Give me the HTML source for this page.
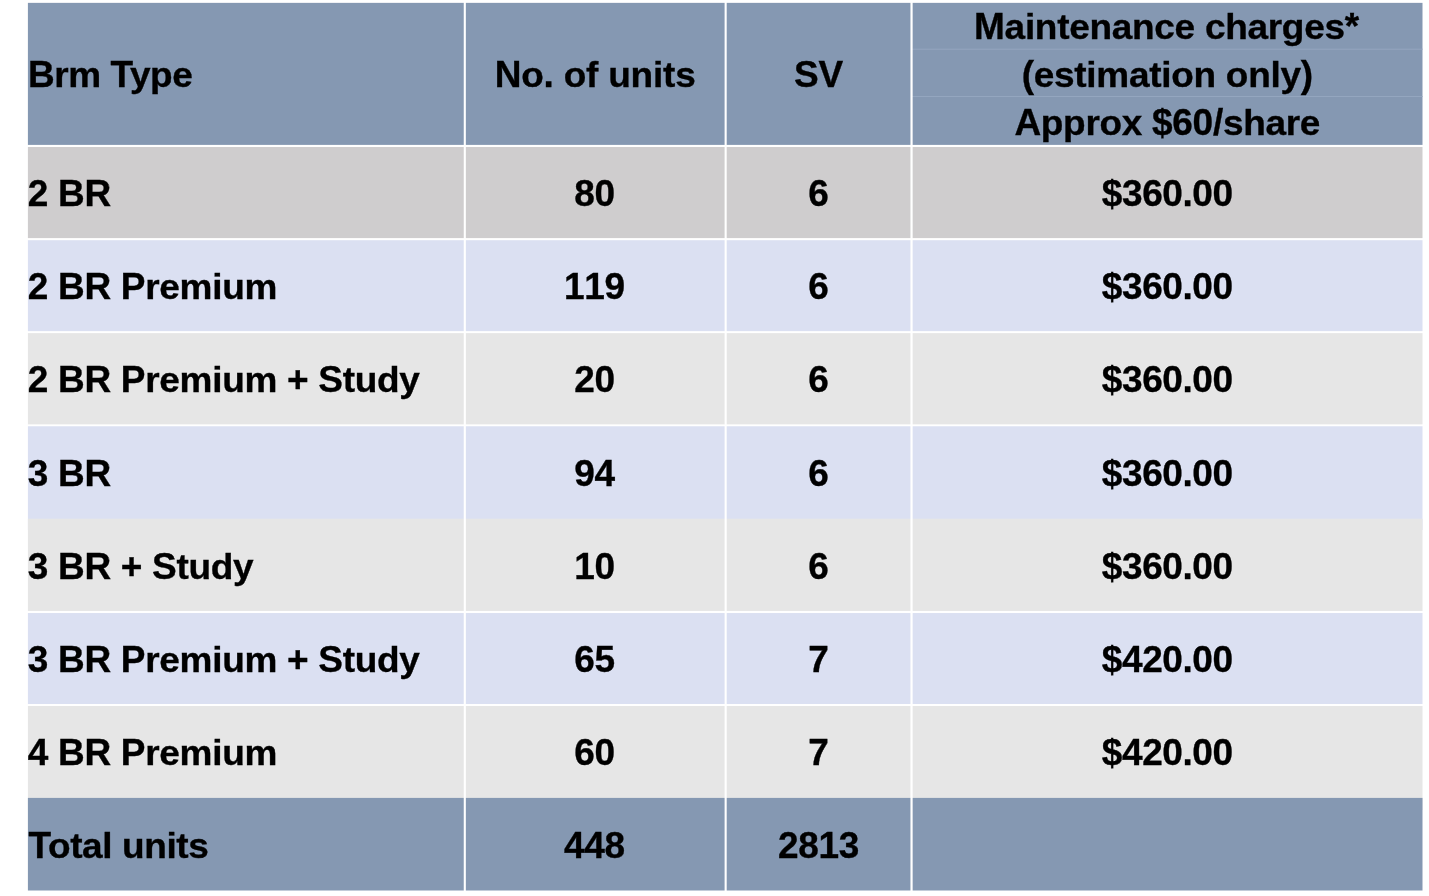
<!DOCTYPE html>
<html lang="en"><head><meta charset="utf-8"><title>Unit mix and maintenance charges</title>
<style>
html,body{margin:0;padding:0;background:#fff;}
body{width:1429px;height:896px;position:relative;overflow:hidden;font-family:"Liberation Sans",Arial,Helvetica,sans-serif;font-weight:bold;color:#000;font-size:37px;}
table,thead,tbody,tr{display:contents;}
.c{display:block;position:absolute;padding:0;margin:0;border:0;font-weight:bold;text-align:left;}
.t{position:absolute;left:0;width:100%;height:37px;line-height:37px;white-space:pre;letter-spacing:-0.3px;-webkit-text-stroke:0.35px #000;}
.t span{display:inline-block;height:37px;line-height:37px;vertical-align:top;transform-origin:0 31px;}
.u{transform:scaleY(1.005);}
.d{transform:scaleY(1.005);font-kerning:none;}
.w{transform:scaleY(0.965);}
.l{text-align:left;}
.m{text-align:center;}
.bg{position:absolute;left:0;top:0;display:block;}
</style></head><body>

<svg class="bg" width="1429" height="896" viewBox="0 0 1429 896">
<rect x="27.9" y="2.86" width="1394.6" height="143.14" fill="#8598b2"/>
<rect x="27.9" y="146" width="1394.6" height="93" fill="#cfcdce"/>
<rect x="27.9" y="239" width="1394.6" height="93" fill="#dbe0f2"/>
<rect x="27.9" y="332" width="1394.6" height="93" fill="#e6e6e6"/>
<rect x="27.9" y="425" width="1394.6" height="105" fill="#dbe0f2"/>
<rect x="27.9" y="518.75" width="1394.6" height="93.25" fill="#e6e6e6"/>
<rect x="27.9" y="612" width="1394.6" height="93" fill="#dbe0f2"/>
<rect x="27.9" y="705" width="1394.6" height="105" fill="#e6e6e6"/>
<rect x="27.9" y="797.9" width="1394.6" height="92.6" fill="#8598b2"/>
<rect x="912" y="48.7" width="510.5" height="1" fill="#94a6bf"/>
<rect x="912" y="96" width="510.5" height="1" fill="#94a6bf"/>
<rect x="0" y="144.9" width="1429" height="2.1" fill="#fff"/>
<rect x="0" y="238.1" width="1429" height="2.1" fill="#fff"/>
<rect x="0" y="331.15" width="1429" height="2" fill="#fff"/>
<rect x="0" y="424.35" width="1429" height="1.9" fill="#fff"/>
<rect x="0" y="610.95" width="1429" height="2.1" fill="#fff"/>
<rect x="0" y="704" width="1429" height="2" fill="#fff"/>
<rect x="463.75" y="0" width="2.1" height="896" fill="#fff"/>
<rect x="724.6" y="0" width="2.1" height="896" fill="#fff"/>
<rect x="910.45" y="0" width="2.2" height="896" fill="#fff"/>
</svg>
<table>
<thead><tr>
<th class="c" style="left:28px;top:3px;width:436px;height:142px"><div class="t l" style="top:53px;letter-spacing:-0.45px"><span class="u">B</span><span class="w">rm </span><span class="u">T</span><span class="w" style="margin-left:-2.75px">ype</span></div></th>
<th class="c" style="left:466px;top:3px;width:258.5px;height:142px"><div class="t m" style="top:53px;margin-left:-0.2px;letter-spacing:-0.22px"><span class="u">N</span><span class="w">o</span><span class="d">. </span><span class="w">of </span><span class="w">units</span></div></th>
<th class="c" style="left:726.5px;top:3px;width:184px;height:142px"><div class="t m" style="top:53px"><span class="u">SV</span></div></th>
<th class="c" style="left:912.5px;top:3px;width:509.5px;height:142px"><div class="t m" style="top:5px;margin-left:-0.8px"><span class="u">M</span><span class="w">aintenance </span><span class="w">charges</span><span class="d">*</span></div><div class="t m" style="top:53px"><span class="d">(</span><span class="w">estimation </span><span class="w">only</span><span class="d">)</span></div><div class="t m" style="top:101px"><span class="u">A</span><span class="w">pprox </span><span class="d">$60/</span><span class="w">share</span></div></th>
</tr></thead>
<tbody><tr>
<td class="c" style="left:28px;top:147px;width:436px;height:91px"><div class="t l" style="top:28px;margin-left:-0.3px"><span class="d">2 </span><span class="u">BR</span></div></td>
<td class="c" style="left:466px;top:147px;width:258.5px;height:91px"><div class="t m" style="top:28px;margin-left:-0.8px"><span class="d">80</span></div></td>
<td class="c" style="left:726.5px;top:147px;width:184px;height:91px"><div class="t m" style="top:28px"><span class="d">6</span></div></td>
<td class="c" style="left:912.5px;top:147px;width:509.5px;height:91px"><div class="t m" style="top:28px;letter-spacing:-0.42px"><span class="d">$360.00</span></div></td>
</tr>
<tr>
<td class="c" style="left:28px;top:240px;width:436px;height:91px"><div class="t l" style="top:28px;margin-left:-0.3px"><span class="d">2 </span><span class="u">BR </span><span class="u">P</span><span class="w">remium</span></div></td>
<td class="c" style="left:466px;top:240px;width:258.5px;height:91px"><div class="t m" style="top:28px;margin-left:-0.8px"><span class="d">119</span></div></td>
<td class="c" style="left:726.5px;top:240px;width:184px;height:91px"><div class="t m" style="top:28px"><span class="d">6</span></div></td>
<td class="c" style="left:912.5px;top:240px;width:509.5px;height:91px"><div class="t m" style="top:28px;letter-spacing:-0.42px"><span class="d">$360.00</span></div></td>
</tr>
<tr>
<td class="c" style="left:28px;top:333px;width:436px;height:91px"><div class="t l" style="top:28px;margin-left:-0.3px"><span class="d">2 </span><span class="u">BR </span><span class="u">P</span><span class="w">remium </span><span class="d">+ </span><span class="u">S</span><span class="w">tudy</span></div></td>
<td class="c" style="left:466px;top:333px;width:258.5px;height:91px"><div class="t m" style="top:28px;margin-left:-0.8px"><span class="d">20</span></div></td>
<td class="c" style="left:726.5px;top:333px;width:184px;height:91px"><div class="t m" style="top:28px"><span class="d">6</span></div></td>
<td class="c" style="left:912.5px;top:333px;width:509.5px;height:91px"><div class="t m" style="top:28px;letter-spacing:-0.42px"><span class="d">$360.00</span></div></td>
</tr>
<tr>
<td class="c" style="left:28px;top:426px;width:436px;height:92.5px"><div class="t l" style="top:29px;margin-left:-0.3px"><span class="d">3 </span><span class="u">BR</span></div></td>
<td class="c" style="left:466px;top:426px;width:258.5px;height:92.5px"><div class="t m" style="top:29px;margin-left:-0.8px"><span class="d">94</span></div></td>
<td class="c" style="left:726.5px;top:426px;width:184px;height:92.5px"><div class="t m" style="top:29px"><span class="d">6</span></div></td>
<td class="c" style="left:912.5px;top:426px;width:509.5px;height:92.5px"><div class="t m" style="top:29px;letter-spacing:-0.42px"><span class="d">$360.00</span></div></td>
</tr>
<tr>
<td class="c" style="left:28px;top:518.5px;width:436px;height:92.5px"><div class="t l" style="top:29.5px;margin-left:-0.3px"><span class="d">3 </span><span class="u">BR </span><span class="d">+ </span><span class="u">S</span><span class="w">tudy</span></div></td>
<td class="c" style="left:466px;top:518.5px;width:258.5px;height:92.5px"><div class="t m" style="top:29.5px;margin-left:-0.8px"><span class="d">10</span></div></td>
<td class="c" style="left:726.5px;top:518.5px;width:184px;height:92.5px"><div class="t m" style="top:29.5px"><span class="d">6</span></div></td>
<td class="c" style="left:912.5px;top:518.5px;width:509.5px;height:92.5px"><div class="t m" style="top:29.5px;letter-spacing:-0.42px"><span class="d">$360.00</span></div></td>
</tr>
<tr>
<td class="c" style="left:28px;top:613px;width:436px;height:91px"><div class="t l" style="top:28px;margin-left:-0.3px"><span class="d">3 </span><span class="u">BR </span><span class="u">P</span><span class="w">remium </span><span class="d">+ </span><span class="u">S</span><span class="w">tudy</span></div></td>
<td class="c" style="left:466px;top:613px;width:258.5px;height:91px"><div class="t m" style="top:28px;margin-left:-0.8px"><span class="d">65</span></div></td>
<td class="c" style="left:726.5px;top:613px;width:184px;height:91px"><div class="t m" style="top:28px"><span class="d">7</span></div></td>
<td class="c" style="left:912.5px;top:613px;width:509.5px;height:91px"><div class="t m" style="top:28px;letter-spacing:-0.42px"><span class="d">$420.00</span></div></td>
</tr>
<tr>
<td class="c" style="left:28px;top:706px;width:436px;height:92px"><div class="t l" style="top:28px;margin-left:-0.3px"><span class="d">4 </span><span class="u">BR </span><span class="u">P</span><span class="w">remium</span></div></td>
<td class="c" style="left:466px;top:706px;width:258.5px;height:92px"><div class="t m" style="top:28px;margin-left:-0.8px"><span class="d">60</span></div></td>
<td class="c" style="left:726.5px;top:706px;width:184px;height:92px"><div class="t m" style="top:28px"><span class="d">7</span></div></td>
<td class="c" style="left:912.5px;top:706px;width:509.5px;height:92px"><div class="t m" style="top:28px;letter-spacing:-0.42px"><span class="d">$420.00</span></div></td>
</tr>
<tr>
<td class="c" style="left:28px;top:798px;width:436px;height:92px"><div class="t l" style="top:29px;margin-left:0.5px;letter-spacing:-0.4px"><span class="u">T</span><span class="w" style="margin-left:-2.75px">otal </span><span class="w">units</span></div></td>
<td class="c" style="left:466px;top:798px;width:258.5px;height:92px"><div class="t m" style="top:29px;margin-left:-0.8px"><span class="d">448</span></div></td>
<td class="c" style="left:726.5px;top:798px;width:184px;height:92px"><div class="t m" style="top:29px"><span class="d">2813</span></div></td>
<td class="c" style="left:912.5px;top:798px;width:509.5px;height:92px"></td>
</tr></tbody>
</table>
</body></html>
